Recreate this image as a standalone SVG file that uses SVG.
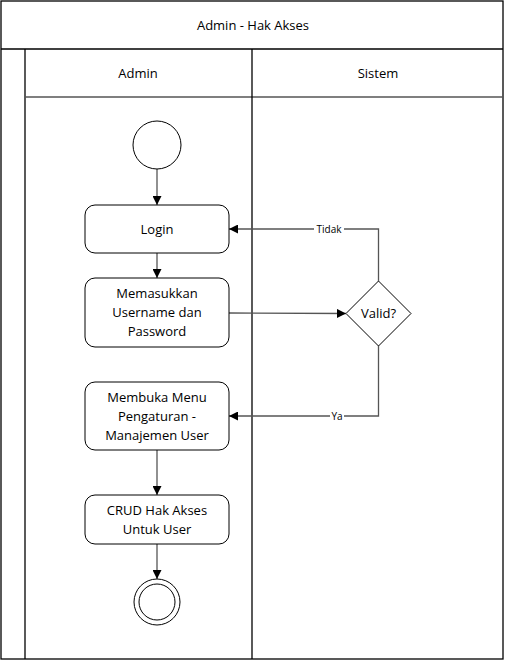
<svg xmlns="http://www.w3.org/2000/svg" width="505" height="661" viewBox="0 0 505 661">
<style>
text{font-family:"Open Sans","Liberation Sans",sans-serif;font-size:13px;fill:#000;text-anchor:middle;dominant-baseline:central}
.lane{fill:none;stroke:#000;stroke-width:1.3}
.box{fill:#fff;stroke:#000;stroke-width:1}
.c{fill:none;stroke:#555;stroke-width:1.3}
.lbl{font-size:10px}
</style>
<defs>
<marker id="a" viewBox="0 0 10 10" refX="10" refY="5" markerWidth="9" markerHeight="9" markerUnits="userSpaceOnUse" orient="auto"><path d="M0,0 L10,5 L0,10 Z" fill="#000"/></marker>
</defs>
<g id="pool">
<rect class="lane" x="1" y="1" width="502" height="658"/>
<line class="lane" x1="1" y1="49" x2="503" y2="49"/>
<line class="lane" x1="25" y1="49" x2="25" y2="659"/>
<line class="lane" x1="25" y1="97" x2="503" y2="97" style="stroke:#555"/>
<line class="lane" x1="252" y1="49" x2="252" y2="659"/>
<text x="253" y="25">Admin - Hak Akses</text>
<text x="138" y="73">Admin</text>
<text x="378" y="73">Sistem</text>
</g>
<g id="connectors">
<line class="c" x1="157" y1="169" x2="157" y2="205" marker-end="url(#a)"/>
<line class="c" x1="157" y1="253" x2="157" y2="278" marker-end="url(#a)"/>
<line class="c" x1="229" y1="313" x2="346" y2="313.5" marker-end="url(#a)"/>
<polyline class="c" points="378.5,281 378.5,229 229,229" marker-end="url(#a)"/>
<polyline class="c" points="378.5,346 378.5,416 229,416" marker-end="url(#a)"/>
<line class="c" x1="157" y1="450" x2="157" y2="495" marker-end="url(#a)"/>
<line class="c" x1="157" y1="544" x2="157" y2="579" marker-end="url(#a)"/>
<rect x="314" y="222" width="30" height="13" fill="#fff"/>
<text class="lbl" x="329" y="228.5">Tidak</text>
<rect x="330" y="410" width="14" height="13" fill="#fff"/>
<text class="lbl" x="337" y="416">Ya</text>
</g>
<g id="start"><circle class="box" cx="157" cy="145" r="24"/></g>
<g id="login"><rect class="box" x="85" y="205" width="144" height="48" rx="10"/><text x="157" y="229">Login</text></g>
<g id="input"><rect class="box" x="85" y="278" width="144" height="69" rx="10"/><text x="157" y="293">Memasukkan</text><text x="157" y="312">Username dan</text><text x="157" y="331">Password</text></g>
<g id="valid"><polygon class="box" points="378.5,281 411,313.5 378.5,346 346,313.5"/><text x="378.5" y="313">Valid?</text></g>
<g id="menu"><rect class="box" x="85" y="382" width="144" height="68" rx="10"/><text x="157" y="397">Membuka Menu</text><text x="157" y="416">Pengaturan -</text><text x="157" y="435">Manajemen User</text></g>
<g id="crud"><rect class="box" x="85" y="495" width="144" height="49" rx="10"/><text x="157" y="510">CRUD Hak Akses</text><text x="157" y="529">Untuk User</text></g>
<g id="end"><circle class="box" cx="157" cy="602" r="23"/><circle class="box" cx="157" cy="602" r="18"/></g>
</svg>
